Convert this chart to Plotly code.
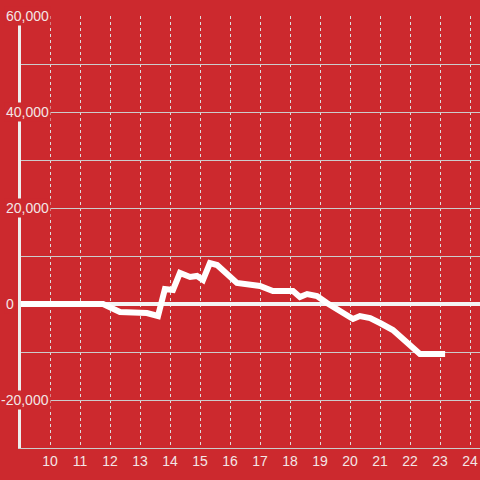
import plotly.graph_objects as go

# data
hours = [9.0, 11.77, 12.33, 13.23, 13.6, 13.83, 14.1, 14.33, 14.67, 14.9, 15.1, 15.33, 15.57,
         16.23, 17.0, 17.43, 18.1, 18.33, 18.57, 18.9, 19.23, 19.67, 20.1, 20.33, 20.67,
         21.0, 21.43, 22.33, 23.17]
values = [0, 0, -1667, -1875, -2500, 3125, 2917, 6458, 5625, 5833, 5000, 8542, 8125,
          4375, 3750, 2708, 2708, 1458, 2083, 1667, 208, -1667, -3125, -2500, -2917,
          -3958, -5417, -10417, -10417]
x_ticks = list(range(10, 25))
y_grid = list(range(-30000, 60001, 10000))
y_label_vals = [60000, 40000, 20000, 0, -20000]
y_label_text = ["60,000", "40,000", "20,000", "0", "-20,000"]

BG = "#cc292e"
X0, X1 = 9.033, 24.333
L, R, T, B = 21, 0, 16, 32
W = 480
PW = W - L - R

fig = go.Figure()
fig.add_trace(go.Scatter(x=hours, y=values, mode="lines",
                         line=dict(color="#ffffff", width=6), hoverinfo="skip"))

annotations = []
for v, t in zip(y_label_vals, y_label_text):
    right_px = 16 if v == 0 else 51
    annotations.append(dict(
        x=(right_px - L) / PW, xref="paper", y=v, yref="y",
        text=t, showarrow=False, xanchor="right", yanchor="middle",
        font=dict(family="Liberation Sans, Arial, sans-serif", size=14, color="#f3e6e6"),
        bgcolor=BG, borderpad=1))

fig.update_layout(
    width=480, height=480,
    margin=dict(l=L, r=R, t=T, b=B, autoexpand=False),
    paper_bgcolor=BG, plot_bgcolor=BG,
    showlegend=False,
    annotations=annotations,
    xaxis=dict(range=[X0, X1], tickvals=x_ticks, ticktext=[str(t) for t in x_ticks],
               showgrid=True, gridcolor="#dddddd", gridwidth=1, griddash="3px,3px",
               showline=True, linecolor="#cccccc", linewidth=1, ticks="",
               zeroline=False, automargin=False,
               tickfont=dict(family="Liberation Sans, Arial, sans-serif", size=14, color="#f3e6e6")),
    yaxis=dict(range=[-30000, 60000], tickvals=y_grid, showticklabels=False,
               showgrid=True, gridcolor="#cccccc", gridwidth=1,
               zeroline=True, zerolinecolor="#f4f4f4", zerolinewidth=4,
               showline=True, linecolor="#eeeeee", linewidth=3, ticks="", automargin=False),
)

fig.write_html("out.html", config={"displayModeBar": False},
               post_script="document.body.style.margin='0';document.body.style.overflow='hidden';")
